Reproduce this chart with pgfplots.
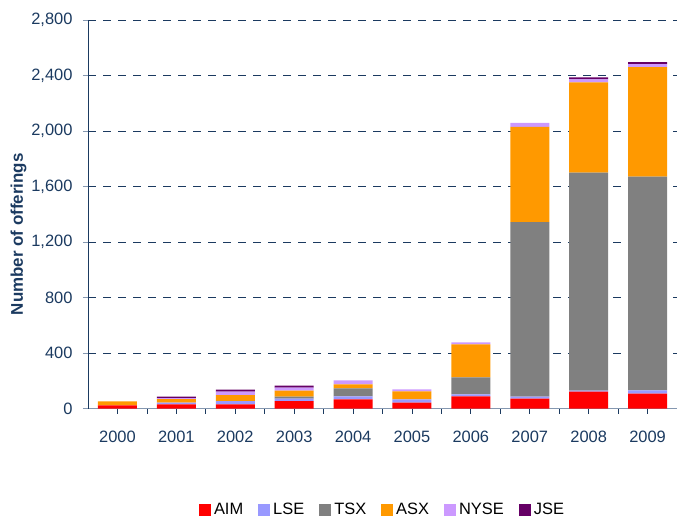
\documentclass[border=0pt]{standalone}
\usepackage{pgfplots}
\pgfplotsset{compat=1.18}
\usepackage{fontspec}
\setmainfont{Liberation Sans}

\definecolor{aim}{HTML}{FF0000}
\definecolor{lse}{HTML}{9999FF}
\definecolor{tsx}{HTML}{808080}
\definecolor{asx}{HTML}{FF9900}
\definecolor{nyse}{HTML}{CC99FF}
\definecolor{jse}{HTML}{660066}
\definecolor{navy}{HTML}{1B3A60}
\definecolor{steel}{HTML}{8497B0}

\pgfplotsset{sq/.style={legend image code/.code={\path[##1] (0bp,-6bp) rectangle (12bp,6bp);}}}

% year, AIM, LSE, TSX, ASX, NYSE, JSE
\pgfplotstableread{
x aim lse tsx asx nyse jse
0 22 0 0 29 0 0
1 29 14 0 24 7 12
2 29 24 0 43 26 14
3 53 19 14 43 22 14
4 65 22 58 29 29 0
5 43 22 0 58 14 0
6 87 14 123 238 14 0
7 72 14 1257 686 29 0
8 122 7 1571 650 22 14
9 108 22 1542 788 22 15
}\offerings

\begin{document}
\begin{tikzpicture}
\begin{axis}[
  scale only axis, width=589bp, height=388.5bp,
  ybar stacked, bar width=39bp,
  xmin=-0.5, xmax=9.5, ymin=0, ymax=2800,
  xtick={0,...,9},
  xticklabels={2000,2001,2002,2003,2004,2005,2006,2007,2008,2009},
  minor xtick={0.5,1.5,...,8.5},
  ytick={0,400,...,2800},
  axis x line*=bottom, axis y line*=left,
  x axis line style={steel,line width=1.2pt},
  y axis line style={navy,line width=0.8pt},
  tick align=outside, major tick length=5bp, minor tick length=5bp,
  xtick style={navy,line width=0.8pt}, minor tick style={steel,line width=0.8pt},
  ytick style={steel,line width=0.8pt},
  ymajorgrids, grid style={navy,dash pattern=on 8bp off 7bp,line width=0.8pt},
  /pgf/number format/assume math mode=true,
  /pgf/number format/.cd,1000 sep={,},/pgfplots/.cd,
  tick label style={font=\fontsize{16.5}{18}\selectfont,text=navy},
  yticklabel style={xshift=-7bp},
  xticklabel style={yshift=-14bp},
  ylabel={Number of offerings},
  ylabel style={font=\bfseries\fontsize{17}{19}\selectfont,text=navy,
    at={(axis description cs:0,0.5)},anchor=south,yshift=58bp,xshift=-20bp},
  legend columns=6,
  legend style={draw=none,at={(0.5,-0.261)},anchor=center,
    font=\fontsize{16.5}{18}\selectfont,
    /tikz/every even column/.append style={column sep=13bp},
    /tikz/every odd column/.append style={column sep=1bp}},
]
\addplot[fill=aim,draw=none,sq] table[y=aim] {\offerings};
\addplot[fill=lse,draw=none,sq] table[y=lse] {\offerings};
\addplot[fill=tsx,draw=none,sq] table[y=tsx] {\offerings};
\addplot[fill=asx,draw=none,sq] table[y=asx] {\offerings};
\addplot[fill=nyse,draw=none,sq] table[y=nyse] {\offerings};
\addplot[fill=jse,draw=none,sq] table[y=jse] {\offerings};
\legend{AIM,LSE,TSX,ASX,NYSE,JSE}
\end{axis}
\pgfresetboundingbox
\path ([shift={(-88bp,-109.5bp)}]current axis.south west) rectangle ([shift={(0bp,20bp)}]current axis.north east);
\end{tikzpicture}
\end{document}
